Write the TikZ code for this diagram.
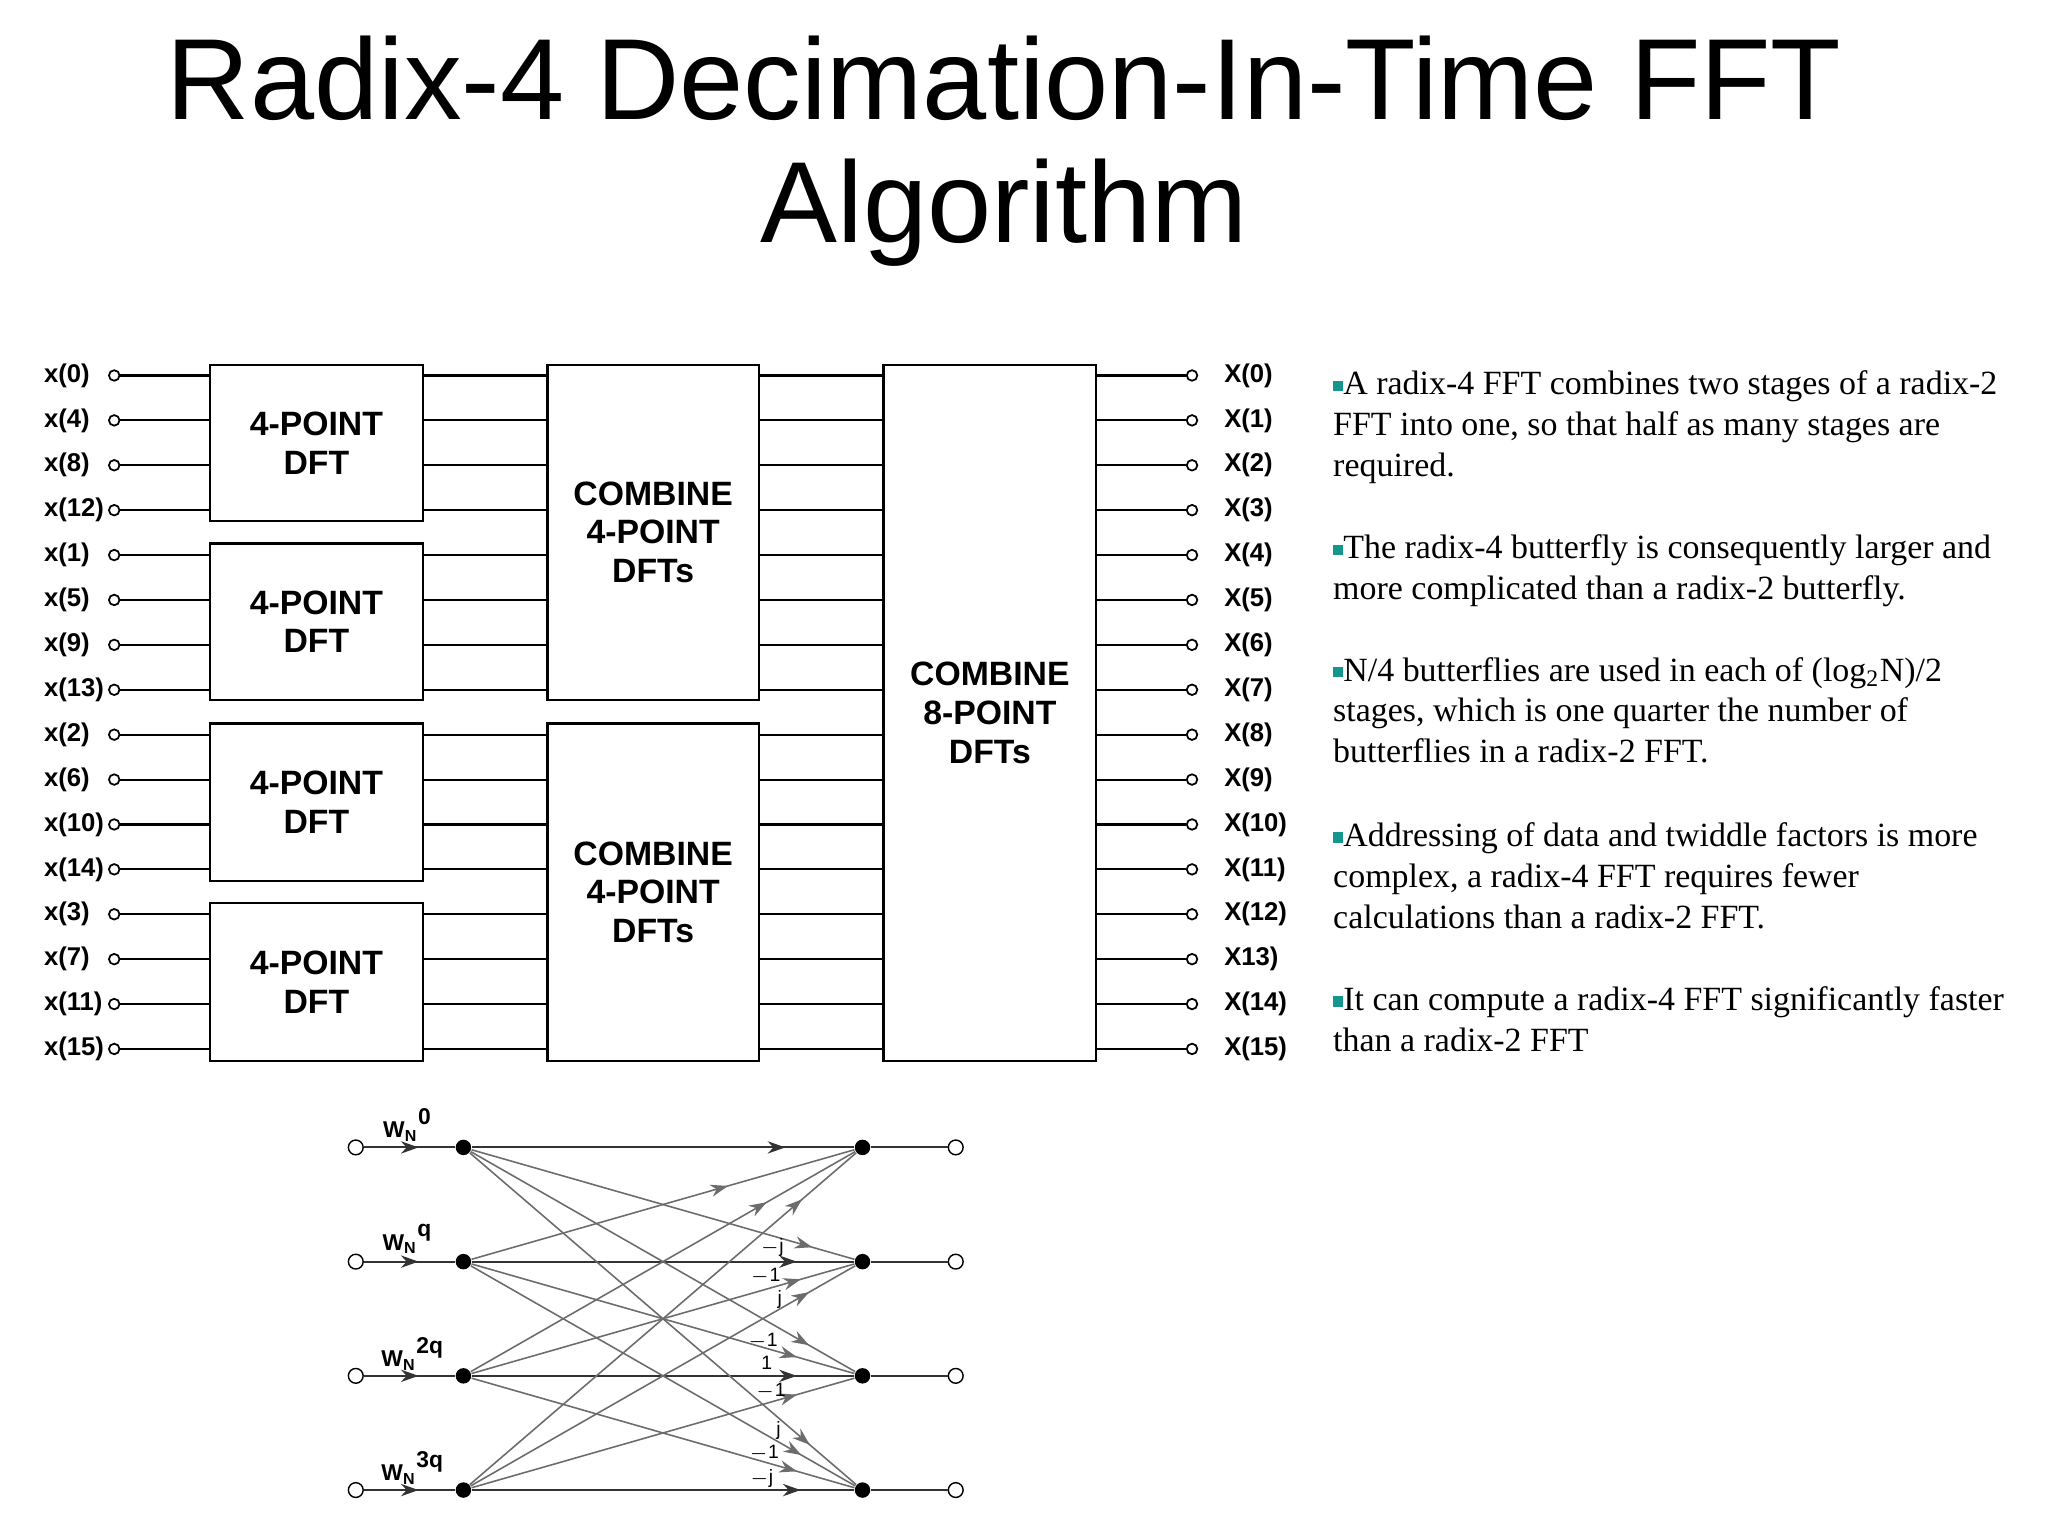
\documentclass[tikz,border=0pt]{standalone}
\usepackage{fontspec}
\setmainfont{Liberation Serif}
\setsansfont{Liberation Sans}
\usetikzlibrary{decorations.markings,arrows.meta}
\definecolor{bul}{RGB}{20,150,140}
\newcommand{\bsq}{\textcolor{bul}{\rule[0.25ex]{0.3em}{0.3em}}}
\begin{document}
\begin{tikzpicture}[x=0.013128cm,y=-0.013128cm,
  blk/.style={draw,line width=0.7pt,font=\sffamily\bfseries\fontsize{9.6}{11}\selectfont,align=center,inner sep=0pt},
  lbl/.style={font=\sffamily\bfseries\fontsize{7.3}{8}\selectfont,inner sep=0pt},
  oc/.style={draw,circle,fill=white,inner sep=0pt,minimum size=3pt,line width=0.5pt},
  wire/.style={line width=0.6pt},
  para/.style={anchor=north west,align=left,inner sep=0pt,font=\fontsize{9.65}{11.6}\selectfont},
  bl/.style={gray!85!black,line width=0.45pt},
  bh/.style={black!80,line width=0.6pt},
  mk/.style={postaction={decorate},decoration={markings,mark=at position #1 with {\arrow{Stealth[length=5pt,width=3.5pt]}}}},
  dotf/.style={circle,fill=black,inner sep=0pt,minimum size=4.4pt},
  doto/.style={circle,draw,fill=white,inner sep=0pt,minimum size=4.2pt,line width=0.4pt},
  sm/.style={font=\sffamily\fontsize{5.5}{6}\selectfont,inner sep=0pt},
  wl/.style={font=\sffamily\bfseries\fontsize{6.5}{7}\selectfont,inner sep=0pt}]
\useasboundingbox (0,0) rectangle (1560,1170);
\node[font=\sffamily\fontsize{32.8}{36}\selectfont] (t1) at (765,60) {Radix-4 Decimation-In-Time FFT};
\node[font=\sffamily\fontsize{32.8}{36}\selectfont] (t2) at (765,162) {Algorithm};
% boxes
\foreach \i/\a/\b in {0/278/397,1/414/533,2/551/671,3/688/808}
  \node[blk,minimum width=162*0.013128cm,minimum height={(\b-\a)*0.013128cm}] (p\i) at (241,{(\a+\b)/2}) {4-POINT\\DFT};
\node[blk,minimum width=161*0.013128cm,minimum height=255*0.013128cm] (c0) at (497.5,405.5) {COMBINE\\4-POINT\\DFTs};
\node[blk,minimum width=161*0.013128cm,minimum height=257*0.013128cm] (c1) at (497.5,679.5) {COMBINE\\4-POINT\\DFTs};
\node[blk,minimum width=162*0.013128cm,minimum height=530*0.013128cm] (bg) at (754,543) {COMBINE\\8-POINT\\DFTs};
% rows
\foreach [count=\k from 0] \n/\m in {0/0,4/1,8/2,12/3,1/4,5/5,9/6,13/7,2/8,6/9,10/10,14/11,3/12,7/13,11/14,15/15}{
  \pgfmathsetmacro{\yy}{286+\k*34.2}
  \node[oc] (ic\k) at (87,\yy) {};
  \node[lbl,anchor=west] (il\k) at (33,\yy) {x(\n)};
  \coordinate (a\k) at (160,\yy);
  \draw[wire] (ic\k) -- (a\k);
  \draw[wire] (322,\yy) coordinate (b\k) -- (417,\yy) coordinate (cc\k);
  \draw[wire] (578,\yy) coordinate (d\k) -- (673,\yy) coordinate (e\k);
  \node[oc] (oc\k) at (908,\yy) {};
  \draw[wire] (835,\yy) coordinate (f\k) -- (oc\k);
  \node[lbl,anchor=west] (ol\k) at (932,\yy) {\ifnum\k=13 X13)\else X(\m)\fi};
}
% text
\node[para] (q1) at (1015,282) {\bsq A radix-4 FFT combines two stages of a radix-2\\FFT into one, so that half as many stages are\\required.};
\node[para] (q2) at (1015,407) {\bsq The radix-4 butterfly is consequently larger and\\more complicated than a radix-2 butterfly.};
\node[para] (q3) at (1015,500) {\bsq N/4 butterflies are used in each of (log\textsubscript{2}N)/2\\stages, which is one quarter the number of\\butterflies in a radix-2 FFT.};
\node[para] (q4) at (1015,626) {\bsq Addressing of data and twiddle factors is more\\complex, a radix-4 FFT requires fewer\\calculations than a radix-2 FFT.};
\node[para] (q5) at (1015,751) {\bsq It can compute a radix-4 FFT significantly faster\\than a radix-2 FFT};
% butterfly
\foreach \r/\yy in {0/874,1/961,2/1048,3/1135}{
  \node[doto] (li\r) at (271,\yy) {};
  \node[dotf] (L\r) at (353,\yy) {};
  \node[dotf] (R\r) at (657,\yy) {};
  \node[doto] (ro\r) at (728,\yy) {};
  \draw[bh,mk=0.6] (li\r) -- (L\r);
  \draw[bh] (R\r) -- (ro\r);
}
\node[wl] (w0) at (310,857) {W\textsubscript{N}\raisebox{1.1ex}{0}};
\node[wl] (w1) at (310,944) {W\textsubscript{N}\raisebox{1.1ex}{q}};
\node[wl] (w2) at (314,1031) {W\textsubscript{N}\raisebox{1.1ex}{2q}};
\node[wl] (w3) at (314,1118) {W\textsubscript{N}\raisebox{1.1ex}{3q}};
\draw[bh,mk=0.82] (L0) -- (R0);
\draw[bh,mk=0.85] (L1) -- (R1);
\draw[bh,mk=0.85] (L2) -- (R2);
\draw[bh,mk=0.86] (L3) -- (R3);
\draw[bl,mk=0.67] (L1) -- (R0);
\draw[bl,mk=0.77] (L2) -- (R0);
\draw[bl,mk=0.86] (L3) -- (R0);
\draw[bl,mk=0.89] (L0) -- (R1);
\draw[bl,mk=0.86] (L2) -- (R1);
\draw[bl,mk=0.88] (L3) -- (R1);
\draw[bl,mk=0.88] (L0) -- (R2);
\draw[bl,mk=0.85] (L1) -- (R2);
\draw[bl,mk=0.85] (L3) -- (R2);
\draw[bl,mk=0.88] (L0) -- (R3);
\draw[bl,mk=0.86] (L1) -- (R3);
\draw[bl,mk=0.85] (L2) -- (R3);
\node[sm] (s1) at (588,950) {$-$j};
\node[sm] (s2) at (583,972) {$-$1};
\node[sm] (s3) at (594,990) {j};
\node[sm] (s4) at (581,1022) {$-$1};
\node[sm] (s5) at (584,1038) {1};
\node[sm] (s6) at (587,1060) {$-$1};
\node[sm] (s7) at (593,1090) {j};
\node[sm] (s8) at (582,1107) {$-$1};
\node[sm] (s9) at (580,1126) {$-$j};
\end{tikzpicture}
\end{document}
